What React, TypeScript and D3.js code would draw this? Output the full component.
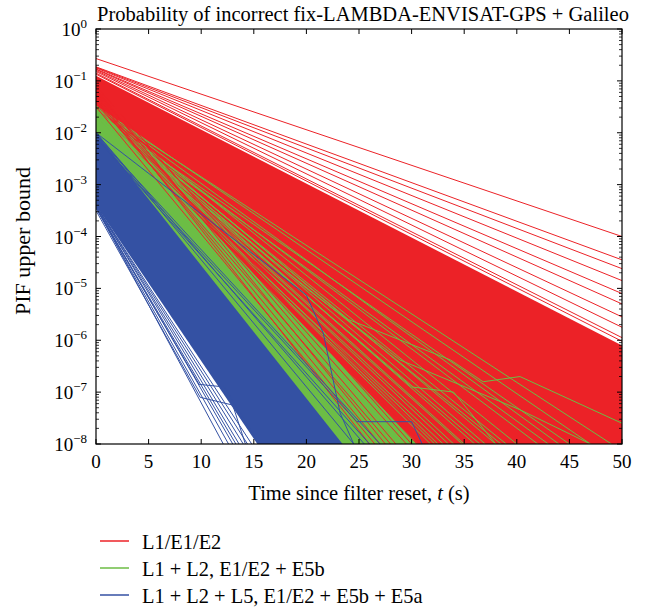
import React from "react";
import * as d3 from "d3";

// ---------- data (log10 of PIF upper bound) ----------
const xTicks = [0, 5, 10, 15, 20, 25, 30, 35, 40, 45, 50];
const yDecades = [0, -1, -2, -3, -4, -5, -6, -7, -8];

const seriesNames = ["L1/E1/E2", "L1 + L2, E1/E2 + E5b", "L1 + L2 + L5, E1/E2 + E5b + E5a"];
const seriesColors = ["#ec2227", "#6cbd45", "#3451a3"];

// dense bundles: times, upper edge, lower edge (log10)
const bandTimes = [0, 50];
const redBandTop = [-0.9, -6.1];
const redBandBottom = [-2.0, -12.0];
const greenBandTop = [-1.55, -12.1];
const greenBandBottom = [-2.4, -15.8];
const blueBandTop = [-2.0, -14.8];
const blueBandBottom = [-3.4, -18.4];

// straight lines: [value at t=0, t1, value at t1]
const redLines = [
  [-0.57, 50, -4.0], [-0.73, 50, -4.45], [-0.74, 50, -4.62], [-0.75, 50, -4.85],
  [-0.77, 50, -5.1], [-0.78, 50, -5.3], [-0.8, 50, -5.55], [-0.82, 50, -5.75],
  [-0.85, 50, -5.95], [-0.87, 50, -6.02],
];
const redOverLines = [
  [-1.2, 28.5, -8], [-1.35, 27, -8], [-1.1, 30, -8], [-1.5, 26.5, -8],
  [-1.3, 29.5, -8], [-1.45, 31, -8], [-1.25, 32, -8], [-1.4, 28, -8],
  [-1.15, 27.5, -8], [-1.38, 30.5, -8], [-1.28, 26, -8],
];
const greenLines = [
  [-1.5, 40, -8], [-1.52, 38, -8], [-1.55, 36, -8], [-1.58, 42, -8],
  [-1.6, 35, -8], [-1.62, 34, -8], [-1.65, 45, -8], [-1.7, 33, -8],
  [-1.48, 47, -8], [-1.56, 37, -8], [-1.6, 39, -8], [-1.66, 43, -8],
  [-1.54, 33.5, -8], [-1.58, 32.5, -8], [-1.63, 34.8, -8], [-1.68, 36.5, -8],
  [-1.72, 38.5, -8], [-1.5, 44, -8], [-1.53, 49, -8], [-1.6, 31.8, -8],
  [-1.64, 32.2, -8],
];
const greenKinked = [
  [[0, -1.55], [24, -5.6], [33.7, -6.38], [36.8, -6.8], [40.3, -6.7], [50, -7.6]],
  [[0, -1.6], [20, -5.0], [28.9, -6.38], [40.3, -7.34], [47, -8.0]],
  [[0, -1.58], [22, -5.5], [30, -6.9], [34, -7.0], [38, -8.0]],
];
const blueLines = [
  [-3.43, 12.1, -8], [-3.45, 12.6, -8], [-3.42, 13.0, -8], [-3.44, 13.3, -8],
  [-3.4, 13.6, -8], [-3.41, 14.0, -8], [-3.4, 14.4, -8], [-3.4, 14.8, -8],
  [-2.0, 25.5, -8], [-2.05, 27, -8], [-2.0, 24.5, -8], [-2.1, 26, -8],
];
const blueKinked = [
  [[0, -3.45], [9.8, -6.85], [12.2, -6.9], [15.5, -8]],
  [[0, -3.5], [9.9, -7.1], [13, -7.25], [14.2, -8]],
  [[0, -2.0], [18.4, -4.88], [20, -5.13], [21.6, -5.86], [23.2, -7.4], [24.5, -8]],
  [[0, -2.1], [24.8, -7.57], [30, -7.57], [31, -8]],
];

// ---------- layout ----------
const W = 648, H = 609;
const L = 96, R = 622, T = 29, B = 444;
const FONT = "'Liberation Serif', 'DejaVu Serif', serif";

export default function App() {
  const x = d3.scaleLinear().domain([0, 50]).range([L, R]);
  const y = d3.scaleLog().domain([1e-8, 1]).range([B, T]);
  const py = (v: number) => y(Math.pow(10, v));

  const line = d3.line<number[]>().x((d) => x(d[0])).y((d) => py(d[1]));
  const area = (top: number[], bot: number[]) =>
    d3.area<number>()
      .x((_, i) => x(bandTimes[i]))
      .y0((_, i) => py(bot[i]))
      .y1((_, i) => py(top[i]))(bandTimes.map((_, i) => i)) as string;

  const seg = (l: number[]) => line([[0, l[0]], [l[1], l[2]]]) as string;

  const minor: number[] = [];
  for (let e = -8; e < 0; e++) for (let m = 2; m <= 9; m++) minor.push(m * Math.pow(10, e));

  const [rc, gc, bc] = seriesColors;
  const sw = 1;

  return (
    <svg width={W} height={H} style={{ position: "absolute", left: 0, top: 0, background: "#fff" }}
      fontFamily={FONT}>
      <defs>
        <clipPath id="plot"><rect x={L} y={T} width={R - L} height={B - T} /></clipPath>
      </defs>
      <g clipPath="url(#plot)" fill="none">
        <path d={area(redBandTop, redBandBottom)} fill={rc} />
        {redLines.map((l, i) => <path key={"r" + i} d={seg(l)} stroke={rc} strokeWidth={sw} />)}
        <path d={area(greenBandTop, greenBandBottom)} fill={gc} />
        {greenLines.map((l, i) => <path key={"g" + i} d={seg(l)} stroke={gc} strokeWidth={sw} />)}
        {greenKinked.map((p, i) => <path key={"gk" + i} d={line(p) as string} stroke={gc} strokeWidth={sw} />)}
        {redOverLines.map((l, i) => <path key={"ro" + i} d={seg(l)} stroke={rc} strokeWidth={sw} />)}
        <path d={area(blueBandTop, blueBandBottom)} fill={bc} />
        {blueLines.map((l, i) => <path key={"b" + i} d={seg(l)} stroke={bc} strokeWidth={sw} />)}
        {blueKinked.map((p, i) => <path key={"bk" + i} d={line(p) as string} stroke={bc} strokeWidth={sw} />)}
      </g>

      {/* frame */}
      <rect x={L} y={T} width={R - L} height={B - T} fill="none" stroke="#000" strokeWidth={1.2} />
      {xTicks.map((t) => (
        <g key={"xt" + t}>
          <line x1={x(t)} x2={x(t)} y1={B} y2={B - 5} stroke="#000" />
          <line x1={x(t)} x2={x(t)} y1={T} y2={T + 5} stroke="#000" />
          <text x={x(t)} y={468} fontSize={19} textAnchor="middle">{t}</text>
        </g>
      ))}
      {yDecades.map((e) => (
        <g key={"yt" + e}>
          <line x1={L} x2={L + 5} y1={py(e)} y2={py(e)} stroke="#000" />
          <line x1={R} x2={R - 5} y1={py(e)} y2={py(e)} stroke="#000" />
          <text x={87} y={py(e) + 7} fontSize={19} textAnchor="end">
            10<tspan dy={-8} fontSize={13}>{e === 0 ? "0" : "\u2212" + Math.abs(e)}</tspan>
          </text>
        </g>
      ))}
      {minor.map((v, i) => (
        <g key={"ym" + i}>
          <line x1={L} x2={L + 3} y1={y(v)} y2={y(v)} stroke="#000" strokeWidth={0.8} />
          <line x1={R} x2={R - 3} y1={y(v)} y2={y(v)} stroke="#000" strokeWidth={0.8} />
        </g>
      ))}

      <text x={363} y={21} fontSize={20.5} textAnchor="middle">
        Probability of incorrect fix-LAMBDA-ENVISAT-GPS + Galileo
      </text>
      <text x={359} y={500} fontSize={20.5} textAnchor="middle">
        Time since filter reset, <tspan fontStyle="italic">t</tspan> (s)
      </text>
      <text transform="translate(30,241) rotate(-90)" fontSize={22} textAnchor="middle">
        PIF upper bound
      </text>

      {seriesNames.map((n, i) => (
        <g key={"lg" + i}>
          <line x1={100} x2={129} y1={541 + i * 27} y2={541 + i * 27} stroke={seriesColors[i]} strokeWidth={1.5} />
          <text x={142} y={549 + i * 27} fontSize={20.4}>{n}</text>
        </g>
      ))}
    </svg>
  );
}
